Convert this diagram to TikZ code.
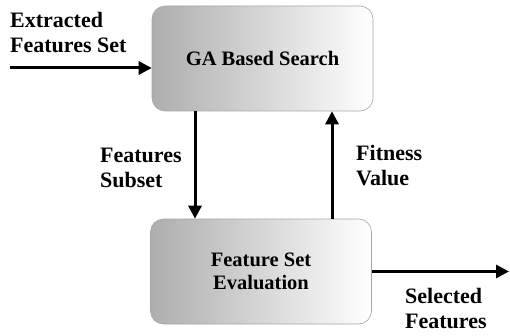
\documentclass[tikz,border=0pt]{standalone}
\usepackage{fontspec}
\setmainfont{Liberation Serif}
\usetikzlibrary{arrows.meta}

\begin{document}
\begin{tikzpicture}[x=1pt,y=1pt,
  procbox/.style={draw=gray!70, line width=0.6pt, rounded corners=13pt,
    left color=black!32, middle color=black!6, right color=white,
    minimum width=221pt, minimum height=105pt, align=center,
    font=\fontsize{20.5}{23}\selectfont\bfseries},
  lbl/.style={align=left, inner sep=0pt, anchor=base west,
    font=\fontsize{22}{25}\selectfont\bfseries},
  flow/.style={line width=3pt, -{Triangle[length=13pt,width=13pt]}}]
  \useasboundingbox (0,0) rectangle (510,335);

  % the two blocks
  \node[procbox] (ga) at (262.5,276.5) {GA Based Search};
  \node[procbox] (eval) at (261,63.5) {Feature Set\\Evaluation};

  % free ends and columns of the vertical arrows
  \coordinate (in) at (10,267);
  \coordinate (out) at (509,63.5);
  \coordinate (down) at (195,0);
  \coordinate (up) at (332,0);

  % labels (base = last line)
  \node[lbl] (extracted) at (10,282) {Extracted\\Features Set};
  \node[lbl] (subset) at (100,148) {Features\\Subset};
  \node[lbl] (fitness) at (356,150) {Fitness\\Value};
  \node[lbl] (selected) at (405,7) {Selected\\Features};

  % arrows
  \draw[flow] (in) -- (in -| ga.west);
  \draw[flow] (ga.south -| down) -- (eval.north -| down);
  \draw[flow] (eval.north -| up) -- (ga.south -| up);
  \draw[flow] (eval.east) -- (out);
\end{tikzpicture}
\end{document}
